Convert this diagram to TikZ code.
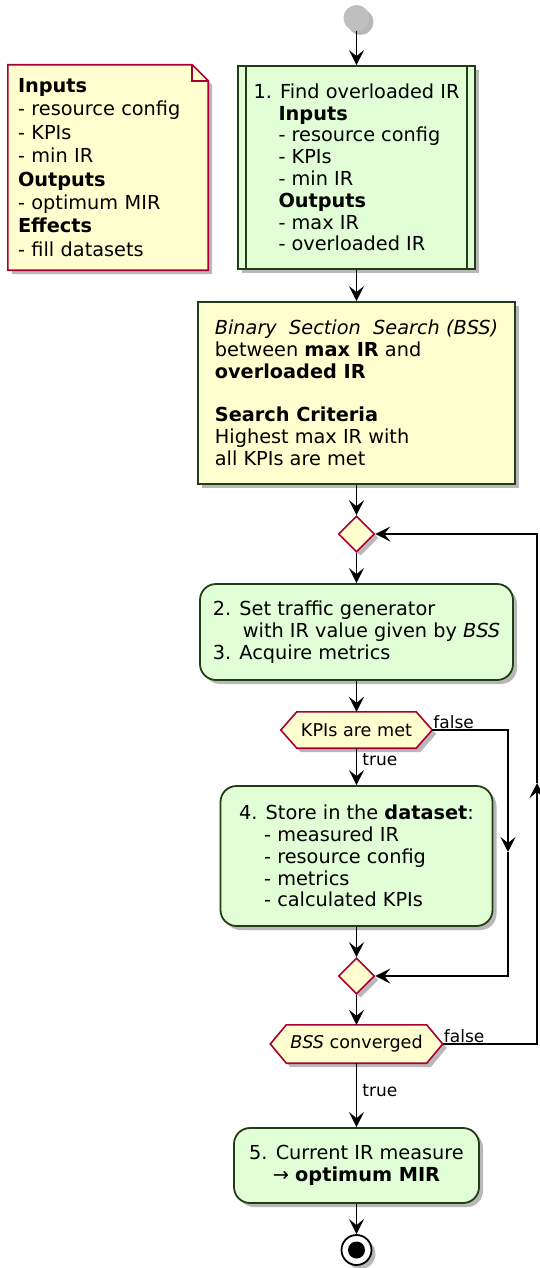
\documentclass[tikz,border=0pt]{standalone}
\usepackage{fontspec}
\setmainfont{DejaVu Sans}
\usetikzlibrary{shapes.geometric,arrows.meta,shadows,calc}
\definecolor{actfill}{RGB}{226,254,214}
\definecolor{actdraw}{RGB}{34,62,22}
\definecolor{yel}{RGB}{254,254,206}
\definecolor{crim}{RGB}{168,0,54}
\pgfdeclarelayer{bg}
\pgfsetlayers{bg,main}
\newcommand\mainfs{\fontsize{19.3pt}{21.8pt}\selectfont}
\newcommand\notefs{\fontsize{19.3pt}{23.4pt}\selectfont}
\newcommand\hexfs{\fontsize{17.6pt}{20pt}\selectfont}
\newcommand\lblfs{\fontsize{17pt}{19pt}\selectfont}
\tikzset{
  shad/.style={drop shadow={shadow xshift=4pt,shadow yshift=-4pt,fill=black,opacity=0.28}},
  box/.style={draw=actdraw,fill=actfill,line width=1.8pt,inner sep=0pt,align=left,shad,font=\mainfs},
  rbox/.style={box,rounded corners=16pt},
  dia/.style={diamond,draw=crim,fill=yel,line width=1.6pt,minimum width=36pt,minimum height=36pt,inner sep=0pt,shad},
  hexn/.style={inner sep=0pt,font=\hexfs},
  hexshape/.style={fill=yel,draw=crim,line width=1.6pt},
  arr/.style={-{Stealth[length=15pt,width=15pt,inset=6pt]},line width=1.8pt},
  lbl/.style={font=\lblfs,inner sep=1pt},
}
\begin{document}
\begin{tikzpicture}[x=1pt,y=-1pt]
\useasboundingbox (0,0) rectangle (540,1268);
\begin{pgfonlayer}{bg}
\fill[white] (0,0) rectangle (540,1268);
\end{pgfonlayer}

% start
\node[circle,fill=black!25,minimum size=26pt,inner sep=0pt,shad] (st) at (356.5,18) {};

% note
\node[font=\notefs,align=left,text width=180pt,inner xsep=10pt,inner ysep=0pt,minimum height=205pt] (nt) at (108,167.5)
 {\textbf{Inputs}\\- resource config\\- KPIs\\- min IR\\\textbf{Outputs}\\- optimum MIR\\\textbf{Effects}\\- fill datasets};

% box 1
\node[box,minimum width=237pt,minimum height=203pt] (b1) at (356.5,167.5)
 {1. Find overloaded IR\\
  \hspace*{25pt}\textbf{Inputs}\\
  \hspace*{25pt}- resource config\\
  \hspace*{25pt}- KPIs\\
  \hspace*{25pt}- min IR\\
  \hspace*{25pt}\textbf{Outputs}\\
  \hspace*{25pt}- max IR\\
  \hspace*{25pt}- overloaded IR};
\draw[actdraw,line width=1.8pt] ([xshift=9pt]b1.north west) -- ([xshift=9pt]b1.south west);
\draw[actdraw,line width=1.8pt] ([xshift=-9pt]b1.north east) -- ([xshift=-9pt]b1.south east);

% BSS box
\node[box,fill=yel,minimum width=317pt,minimum height=182pt] (bss) at (356.5,393)
 {\textit{Binary\ \ Section\ \ Search (BSS)}\\
  between \textbf{max IR} and\\
  \textbf{overloaded IR}\\
  \mbox{}\\
  \textbf{Search Criteria}\\
  Highest max IR with\\
  all KPIs are met};

\node[dia] (d1) at (356.5,534) {};

\node[rbox,minimum width=313pt,minimum height=96pt] (b2) at (356.5,632)
 {2. Set traffic generator\\
  \hspace*{30pt}with IR value given by \textit{BSS}\\
  3. Acquire metrics};

\node[hexn,minimum width=151pt,minimum height=36pt] (h1) at (356.5,730) {KPIs are met};

\node[rbox,minimum width=272pt,minimum height=140pt] (b4) at (356.5,856)
 {4. Store in the \textbf{dataset}:\\
  \hspace*{25pt}- measured IR\\
  \hspace*{25pt}- resource config\\
  \hspace*{25pt}- metrics\\
  \hspace*{25pt}- calculated KPIs};

\node[dia] (d2) at (356.5,976) {};

\node[hexn,minimum width=172pt,minimum height=38pt] (h2) at (356.5,1044) {\textit{BSS} converged};

\node[rbox,align=center,minimum width=245pt,minimum height=75pt] (b5) at (356.5,1165.5)
 {5. Current IR measure\\ → \textbf{optimum MIR}};

\node[circle,draw=black,fill=white,line width=1.8pt,minimum size=30pt,inner sep=0pt,shad] (en) at (356.5,1250) {};
\fill[black] (en.center) circle (8.5pt);

\coordinate (r1) at (508,852);
\coordinate (r2) at (537,783);

% backgrounds: note and hexagons
\begin{pgfonlayer}{bg}
\begin{scope}[transform canvas={xshift=4pt,yshift=-4pt}]
\fill[black,opacity=0.28] (nt.south west) -- (nt.north west) -- ([xshift=-16pt]nt.north east) -- ([yshift=-16pt]nt.north east) -- (nt.south east) -- cycle;
\fill[black,opacity=0.28] (h1.west) -- ([xshift=16pt]h1.north west) -- ([xshift=-16pt]h1.north east) -- (h1.east) -- ([xshift=-16pt]h1.south east) -- ([xshift=16pt]h1.south west) -- cycle;
\fill[black,opacity=0.28] (h2.west) -- ([xshift=16pt]h2.north west) -- ([xshift=-16pt]h2.north east) -- (h2.east) -- ([xshift=-16pt]h2.south east) -- ([xshift=16pt]h2.south west) -- cycle;
\end{scope}
\filldraw[fill=yel,draw=crim,line width=1.6pt] (nt.south west) -- (nt.north west) -- ([xshift=-16pt]nt.north east) -- ([yshift=-16pt]nt.north east) -- (nt.south east) -- cycle;
\draw[crim,line width=1.6pt] ([xshift=-16pt]nt.north east) -- ([xshift=-16pt,yshift=-16pt]nt.north east) -- ([yshift=-16pt]nt.north east);
\filldraw[hexshape] (h1.west) -- ([xshift=16pt]h1.north west) -- ([xshift=-16pt]h1.north east) -- (h1.east) -- ([xshift=-16pt]h1.south east) -- ([xshift=16pt]h1.south west) -- cycle;
\filldraw[hexshape] (h2.west) -- ([xshift=16pt]h2.north west) -- ([xshift=-16pt]h2.north east) -- (h2.east) -- ([xshift=-16pt]h2.south east) -- ([xshift=16pt]h2.south west) -- cycle;
\end{pgfonlayer}

% connectors
\draw[arr] (st) -- (b1);
\draw[arr] (b1) -- (bss);
\draw[arr] (bss) -- (d1);
\draw[arr] (d1) -- (b2);
\draw[arr] (b2) -- (h1);
\draw[arr] (h1) -- node[lbl,anchor=west,pos=0.3,xshift=4pt]{true} (b4);
\draw[arr] (h1.east) -| (r1);
\draw[arr] (r1) |- (d2.east);
\node[lbl,anchor=south west] (f1) at (h1.east) {false};
\draw[arr] (b4) -- (d2);
\draw[arr] (d2) -- (h2);
\draw[arr] (h2.east) -| (r2);
\draw[arr] (r2) |- (d1.east);
\node[lbl,anchor=south west] (f2) at (h2.east) {false};
\draw[arr] (h2) -- node[lbl,anchor=west,pos=0.43,xshift=4pt]{true} (b5);
\draw[arr] (b5) -- (en);
\end{tikzpicture}
\end{document}
